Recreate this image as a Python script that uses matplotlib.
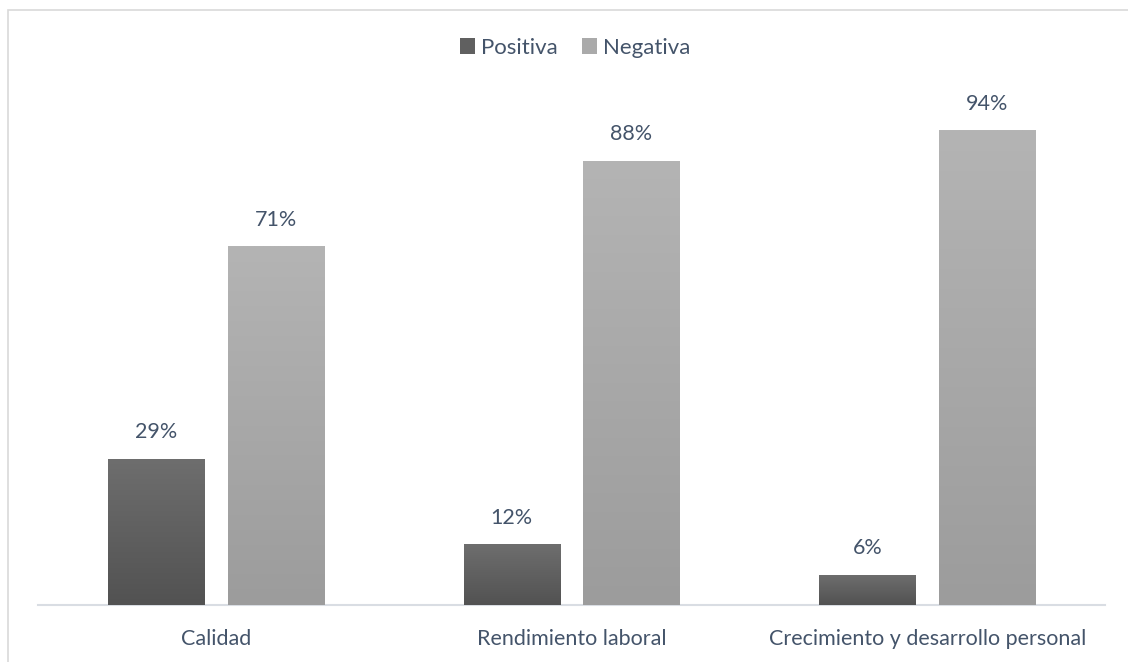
import matplotlib
matplotlib.use("Agg")
import matplotlib.pyplot as plt
import numpy as np
from matplotlib.patches import Rectangle, Patch

categories = ["Calidad", "Rendimiento laboral", "Crecimiento y desarrollo personal"]
positiva = [0.29, 0.12, 0.06]
negativa = [0.71, 0.88, 0.94]

txtcol = "#44546a"
plt.rcParams["font.family"] = ["Lato", "DejaVu Sans"]

fig = plt.figure(figsize=(11.28, 6.62), dpi=100)
W, H = 1128., 662.
ax = fig.add_axes([38 / W, (H - 605) / H, (1105 - 38) / W, (605 - 100) / H])

# chart frame (Excel style), runs off the right/bottom edge
fig.patches.append(Rectangle((8 / W, -0.1), 1.2, (H - 10) / H + 0.1, transform=fig.transFigure,
                             fill=False, edgecolor="#d9d9d9", lw=1.2))

x = np.arange(len(categories))
width = 0.27
off = 0.168


def grad_bars(xs, vals, ctop, cbot):
    bars = ax.bar(xs, vals, width, color=cbot, zorder=2)
    grad = np.linspace(0, 1, 256).reshape(-1, 1)
    cmap = matplotlib.colors.LinearSegmentedColormap.from_list("g", [cbot, ctop])
    for b in bars:
        im = ax.imshow(grad, cmap=cmap, aspect="auto", origin="lower",
                       extent=[b.get_x(), b.get_x() + b.get_width(), 0, b.get_height()], zorder=3)
        im.set_clip_path(b)
    return bars


grad_bars(x - off, positiva, "#6e6e6e", "#525252")
grad_bars(x + off, negativa, "#b4b4b4", "#9c9c9c")

for xi, v in zip(x - off, positiva):
    ax.text(xi, v + 0.033, f"{v:.0%}", ha="center", va="bottom", color=txtcol, fontsize=15.5)
for xi, v in zip(x + off, negativa):
    ax.text(xi, v + 0.033, f"{v:.0%}", ha="center", va="bottom", color=txtcol, fontsize=15.5)

ax.set_xlim(-0.5, len(categories) - 0.5)
ax.set_ylim(0, 1.0)
ax.set_xticks(x)
ax.set_xticklabels(categories, color=txtcol, fontsize=15.5)
ax.tick_params(axis="x", length=0, pad=17)
ax.set_yticks([])
for s in ["top", "right", "left"]:
    ax.spines[s].set_visible(False)
ax.spines["bottom"].set_color("#d9dde3")
ax.spines["bottom"].set_linewidth(1.5)

handles = [Patch(facecolor="#606060", edgecolor="none"), Patch(facecolor="#aaaaaa", edgecolor="none")]
fig.legend(handles, ["Positiva", "Negativa"], loc="center", bbox_to_anchor=(575 / W, (H - 48) / H),
           ncol=2, frameon=False, fontsize=16, labelcolor=txtcol,
           handlelength=0.7, handleheight=0.7, handletextpad=0.25, columnspacing=1.1)

fig.savefig("out.png", dpi=100)
